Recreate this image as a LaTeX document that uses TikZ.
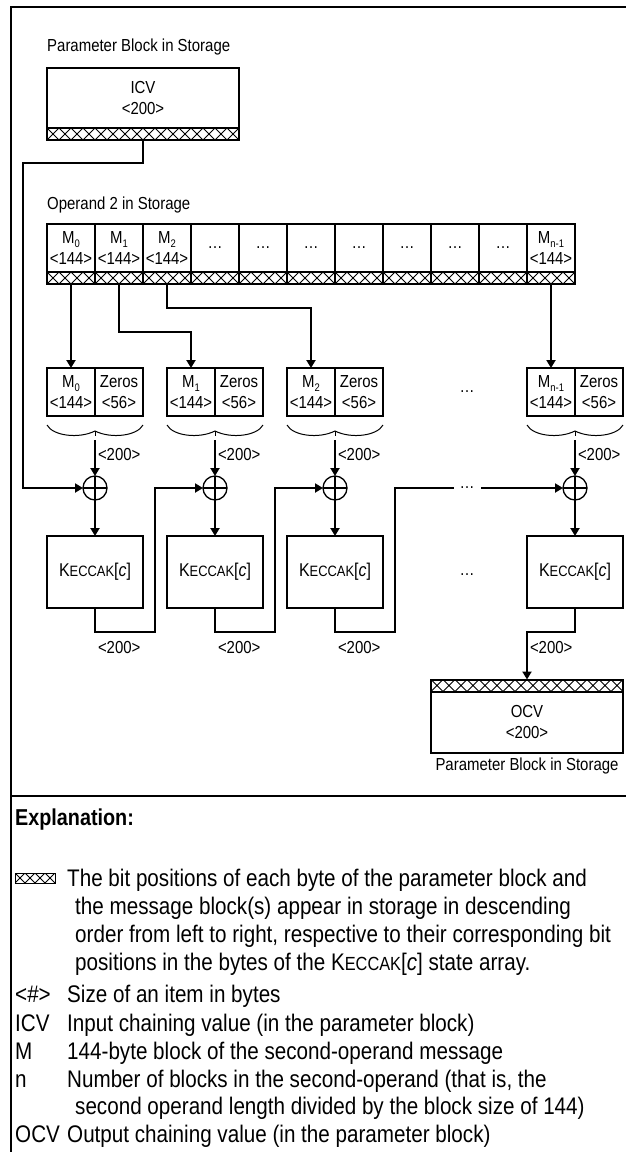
\documentclass[tikz,border=0pt]{standalone}
\usepackage{fontspec}
\setmainfont{Liberation Sans}[FakeStretch=0.86]
\usetikzlibrary{arrows.meta, positioning, calc}

\newcommand{\idx}[1]{\raisebox{-4pt}{\fontsize{11}{11}\selectfont #1}}

\begin{document}
\begin{tikzpicture}[
      x=1pt, y=-1pt,
      font=\fontsize{17.4}{21.5}\selectfont,
      box/.style={rectangle, draw, line width=2pt, outer sep=0pt,
        align=center, inner sep=0pt},
      cell/.style={box, minimum width=48pt, minimum height=48pt},
      crossbar/.style={rectangle, draw, line width=2pt, outer sep=0pt,
        inner sep=0pt, minimum height=#1,
        path picture={
          \foreach \k in {0,...,40}
            \draw[line width=1pt]
              ([xshift=\k*#1]path picture bounding box.north west)
              -- ++(#1,-#1) ++(-#1,0pt) -- ++(#1,#1);}},
      xorop/.style={circle, draw, line width=1.3pt, outer sep=0pt,
        minimum size=24pt, inner sep=0pt,
        path picture={
          \draw[line width=1.3pt]
            (path picture bounding box.north) -- (path picture bounding box.south)
            (path picture bounding box.west) -- (path picture bounding box.east);}},
      bracepath/.style={line width=1pt},
      arrow/.style={-{Triangle[length=8pt, width=9pt]}, line width=2pt},
      sizelbl/.style={anchor=north west, inner xsep=2pt, inner ysep=8pt},
      txt/.style={anchor=base west, inner sep=0pt},
      expltxt/.style={txt, font=\fontsize{24}{28}\selectfont},
      frame/.style={line width=2pt}
    ]
    \useasboundingbox (0,0) rectangle (626,1152);
    \draw[frame] (626,7) -- (11,7) -- (11,1152);
    \draw[frame] (11,796) -- (626,796);

    % ---- parameter block (ICV) ----
    \node[txt] (icvlbl) at (47,51) {Parameter Block in Storage};
    \node[box, minimum width=192pt, minimum height=60pt] (icv) at (143,98)
      {ICV\\<200>};
    \node[crossbar=12pt, minimum width=192pt, below=0pt of icv] (icvhatch) {};

    % ---- operand 2 ----
    \node[txt] (oplbl) at (47,209) {Operand 2 in Storage};
    \foreach \i/\t in {0/{M\idx{0}\\<144>}, 1/{M\idx{1}\\<144>},
                       2/{M\idx{2}\\<144>}, 3/…, 4/…, 5/…, 6/…, 7/…, 8/…, 9/…,
                       10/{M\idx{n-1}\\<144>}} {
      \node[cell] (op\i) at (71+48*\i,248) {\t};
      \node[crossbar=12pt, minimum width=48pt, below=0pt of op\i] (ophatch\i) {};
    }

    % ---- padded blocks, XOR and Keccak ----
    \foreach \i/\x/\s in {0/71/0, 1/191/1, 2/311/2, 3/551/n-1} {
      \node[cell] (m\i) at (\x,392) {M\idx{\s}\\<144>};
      \node[cell, right=0pt of m\i] (z\i) {Zeros\\<56>};
      \draw[bracepath] ($(m\i.south west)+(0,9)$) .. controls +(6,11) and +(-16,8)
        .. ($(m\i.south east)+(0,15)$) .. controls +(16,8) and +(-6,11)
        .. ($(z\i.south east)+(0,9)$);
      \draw[bracepath] ($(m\i.south east)+(0,15)$) -- ++(0,5);
      \coordinate (tip\i) at ($(m\i.south east)+(0,24)$);
      \node[xorop] (xor\i) at ($(m\i.south east)+(0,72)$) {};
      \node[box, minimum width=96pt, minimum height=72pt] (kec\i)
        at ($(xor\i)+(0,84)$) {\fontsize{18.5}{20}\selectfont
          K{\fontsize{15}{15}\selectfont ECCAK}[\textit{c}]};
      \draw[arrow] (tip\i) -- (xor\i.north) node[pos=0.4, right, inner sep=2pt] {<200>};
      \draw[arrow] (xor\i) -- (kec\i.north);
    }
    \node (blkdots) at (467,392) {…};
    \node (kecdots) at (467,575) {…};

    % ---- chaining ----
    \coordinate (icvbend) at (23,163);
    \draw[arrow] (icvhatch.south) |- (icvbend) |- (xor0.west);
    \draw[arrow] (ophatch0.south) -- (m0.north);
    \draw[arrow] (ophatch1.south) -- ++(0,48) -| (m1.north);
    \draw[arrow] (ophatch2.south) -- ++(0,24) -| (m2.north);
    \draw[arrow] (ophatch10.south) -- (m3.north);
    \foreach \i/\j in {0/1, 1/2, 2/3}
      \draw[arrow] (kec\i.south) -- ++(0,24) node[sizelbl] {<200>}
        -- ++(60,0) |- (xor\j.west);
    \node[fill=white, inner sep=0pt, minimum width=27pt, minimum height=6pt]
      (gapdots) at (467,488) {…};

    % ---- output (OCV) ----
    \node[box, minimum width=192pt, minimum height=61pt] (ocv) at (527,722)
      {OCV\\<200>};
    \node[crossbar=12pt, minimum width=192pt, above=0pt of ocv] (ocvhatch) {};
    \node[below=2pt of ocv] (ocvlbl) {Parameter Block in Storage};
    \draw[arrow] (kec3.south) -- ++(0,24) -- ++(-48,0) node[sizelbl] {<200>}
      -- (ocvhatch.north);

    % ---- explanation ----
    \node[txt, font=\fontsize{23}{26}\selectfont\bfseries] (expl) at (15,825)
      {Explanation:};
    \node[crossbar=10pt, minimum width=40pt, line width=1pt] (legendhatch)
      at (35,878) {};
    \node[expltxt] at (67,886) {The bit positions of each byte of the parameter block and};
    \node[expltxt] at (75,914) {the message block(s) appear in storage in descending};
    \node[expltxt] at (75,942) {order from left to right, respective to their corresponding bit};
    \node[expltxt] at (75,970) {positions in the bytes of the K{\fontsize{19}{19}\selectfont ECCAK}[\textit{c}] state array.};
    \node[expltxt] at (15,1002) {<\#>};
    \node[expltxt] at (67,1002) {Size of an item in bytes};
    \node[expltxt] at (15,1031) {ICV};
    \node[expltxt] at (67,1031) {Input chaining value (in the parameter block)};
    \node[expltxt] at (15,1059) {M};
    \node[expltxt] at (67,1059) {144-byte block of the second-operand message};
    \node[expltxt] at (15,1087) {n};
    \node[expltxt] at (67,1087) {Number of blocks in the second-operand (that is, the};
    \node[expltxt] at (75,1114) {second operand length divided by the block size of 144)};
    \node[expltxt] at (15,1142) {OCV};
    \node[expltxt] at (67,1142) {Output chaining value (in the parameter block)};
  \end{tikzpicture}
\end{document}
